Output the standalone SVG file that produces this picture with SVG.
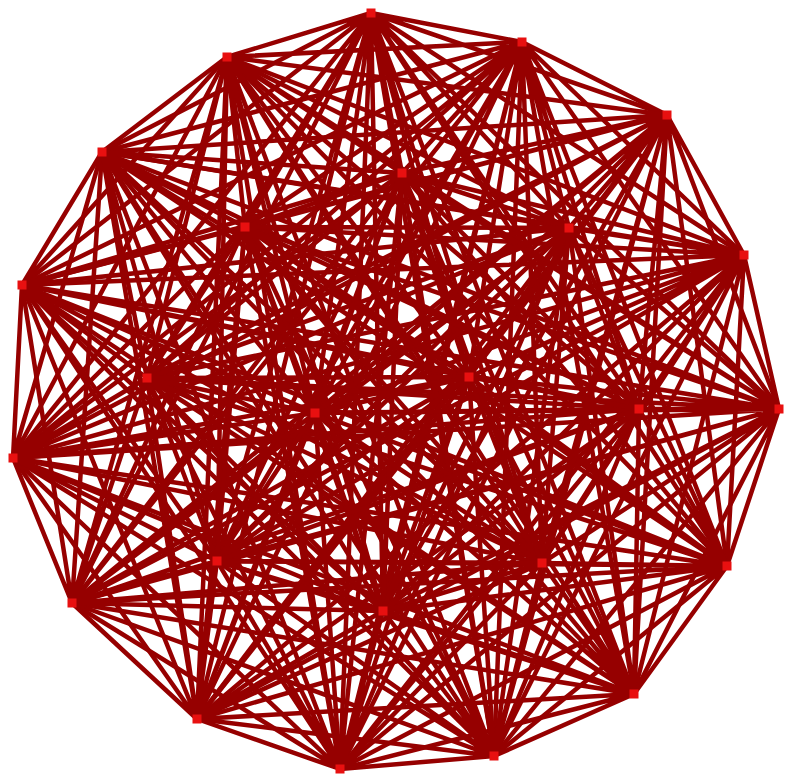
<svg xmlns="http://www.w3.org/2000/svg" width="787" height="781" viewBox="0 0 787 781">
<style>
.e{fill:none;stroke:#960000;stroke-width:4.5;stroke-linecap:round}
.n{fill:#e81010}
</style>
<defs><rect id="sq" x="-4.5" y="-4.5" width="9" height="9"/></defs>
<rect width="787" height="781" fill="#fff"/>
<g id="connectors" class="e">
<path d="M371 13L522 42M371 13L667 115M371 13L744 255M371 13L779 409M371 13L727 566M371 13L634 694M371 13L494 756M371 13L340 769M371 13L197 719M371 13L72 603M371 13L13 458M371 13L22 285M371 13L102 152M371 13L227 57M371 13L402 173M371 13L569 228M371 13L245 227M371 13L147 378M371 13L315 413M371 13L469 377M371 13L639 409M371 13L217 561M371 13L383 611M371 13L542 563"/>
<path d="M522 42L667 115M522 42L744 255M522 42L779 409M522 42L727 566M522 42L634 694M522 42L494 756M522 42L340 769M522 42L197 719M522 42L72 603M522 42L13 458M522 42L22 285M522 42L102 152M522 42L227 57M522 42L402 173M522 42L569 228M522 42L245 227M522 42L147 378M522 42L315 413M522 42L469 377M522 42L639 409M522 42L217 561M522 42L383 611M522 42L542 563"/>
<path d="M667 115L744 255M667 115L779 409M667 115L727 566M667 115L634 694M667 115L494 756M667 115L340 769M667 115L197 719M667 115L72 603M667 115L13 458M667 115L22 285M667 115L102 152M667 115L227 57M667 115L402 173M667 115L569 228M667 115L245 227M667 115L147 378M667 115L315 413M667 115L469 377M667 115L639 409M667 115L217 561M667 115L383 611M667 115L542 563"/>
<path d="M744 255L779 409M744 255L727 566M744 255L634 694M744 255L494 756M744 255L340 769M744 255L197 719M744 255L72 603M744 255L13 458M744 255L22 285M744 255L102 152M744 255L227 57M744 255L402 173M744 255L569 228M744 255L245 227M744 255L147 378M744 255L315 413M744 255L469 377M744 255L639 409M744 255L217 561M744 255L383 611M744 255L542 563"/>
<path d="M779 409L727 566M779 409L634 694M779 409L494 756M779 409L340 769M779 409L197 719M779 409L72 603M779 409L13 458M779 409L22 285M779 409L102 152M779 409L227 57M779 409L402 173M779 409L569 228M779 409L245 227M779 409L147 378M779 409L315 413M779 409L469 377M779 409L639 409M779 409L217 561M779 409L383 611M779 409L542 563"/>
<path d="M727 566L634 694M727 566L494 756M727 566L340 769M727 566L197 719M727 566L72 603M727 566L13 458M727 566L22 285M727 566L102 152M727 566L227 57M727 566L402 173M727 566L569 228M727 566L245 227M727 566L147 378M727 566L315 413M727 566L469 377M727 566L639 409M727 566L217 561M727 566L383 611M727 566L542 563"/>
<path d="M634 694L494 756M634 694L340 769M634 694L197 719M634 694L72 603M634 694L13 458M634 694L22 285M634 694L102 152M634 694L227 57M634 694L402 173M634 694L569 228M634 694L245 227M634 694L147 378M634 694L315 413M634 694L469 377M634 694L639 409M634 694L217 561M634 694L383 611M634 694L542 563"/>
<path d="M494 756L340 769M494 756L197 719M494 756L72 603M494 756L13 458M494 756L22 285M494 756L102 152M494 756L227 57M494 756L402 173M494 756L569 228M494 756L245 227M494 756L147 378M494 756L315 413M494 756L469 377M494 756L639 409M494 756L217 561M494 756L383 611M494 756L542 563"/>
<path d="M340 769L197 719M340 769L72 603M340 769L13 458M340 769L22 285M340 769L102 152M340 769L227 57M340 769L402 173M340 769L569 228M340 769L245 227M340 769L147 378M340 769L315 413M340 769L469 377M340 769L639 409M340 769L217 561M340 769L383 611M340 769L542 563"/>
<path d="M197 719L72 603M197 719L13 458M197 719L22 285M197 719L102 152M197 719L227 57M197 719L402 173M197 719L569 228M197 719L245 227M197 719L147 378M197 719L315 413M197 719L469 377M197 719L639 409M197 719L217 561M197 719L383 611M197 719L542 563"/>
<path d="M72 603L13 458M72 603L22 285M72 603L102 152M72 603L227 57M72 603L402 173M72 603L569 228M72 603L245 227M72 603L147 378M72 603L315 413M72 603L469 377M72 603L639 409M72 603L217 561M72 603L383 611M72 603L542 563"/>
<path d="M13 458L22 285M13 458L102 152M13 458L227 57M13 458L402 173M13 458L569 228M13 458L245 227M13 458L147 378M13 458L315 413M13 458L469 377M13 458L639 409M13 458L217 561M13 458L383 611M13 458L542 563"/>
<path d="M22 285L102 152M22 285L227 57M22 285L402 173M22 285L569 228M22 285L245 227M22 285L147 378M22 285L315 413M22 285L469 377M22 285L639 409M22 285L217 561M22 285L383 611M22 285L542 563"/>
<path d="M102 152L227 57M102 152L402 173M102 152L569 228M102 152L245 227M102 152L147 378M102 152L315 413M102 152L469 377M102 152L639 409M102 152L217 561M102 152L383 611M102 152L542 563"/>
<path d="M227 57L402 173M227 57L569 228M227 57L245 227M227 57L147 378M227 57L315 413M227 57L469 377M227 57L639 409M227 57L217 561M227 57L383 611M227 57L542 563"/>
<path d="M402 173L569 228M402 173L245 227M402 173L147 378M402 173L315 413M402 173L469 377M402 173L639 409M402 173L217 561M402 173L383 611M402 173L542 563"/>
<path d="M569 228L245 227M569 228L147 378M569 228L315 413M569 228L469 377M569 228L639 409M569 228L217 561M569 228L383 611M569 228L542 563"/>
<path d="M245 227L147 378M245 227L315 413M245 227L469 377M245 227L639 409M245 227L217 561M245 227L383 611M245 227L542 563"/>
<path d="M147 378L315 413M147 378L469 377M147 378L639 409M147 378L217 561M147 378L383 611M147 378L542 563"/>
<path d="M315 413L469 377M315 413L639 409M315 413L217 561M315 413L383 611M315 413L542 563"/>
<path d="M469 377L639 409M469 377L217 561M469 377L383 611M469 377L542 563"/>
<path d="M639 409L217 561M639 409L383 611M639 409L542 563"/>
<path d="M217 561L383 611M217 561L542 563"/>
<path d="M383 611L542 563"/>
</g>
<g id="nA" class="n"><use href="#sq" x="371" y="13"/></g>
<g id="nB" class="n"><use href="#sq" x="522" y="42"/></g>
<g id="nC" class="n"><use href="#sq" x="667" y="115"/></g>
<g id="nD" class="n"><use href="#sq" x="744" y="255"/></g>
<g id="nE" class="n"><use href="#sq" x="779" y="409"/></g>
<g id="nF" class="n"><use href="#sq" x="727" y="566"/></g>
<g id="nG" class="n"><use href="#sq" x="634" y="694"/></g>
<g id="nH" class="n"><use href="#sq" x="494" y="756"/></g>
<g id="nI" class="n"><use href="#sq" x="340" y="769"/></g>
<g id="nJ" class="n"><use href="#sq" x="197" y="719"/></g>
<g id="nK" class="n"><use href="#sq" x="72" y="603"/></g>
<g id="nL" class="n"><use href="#sq" x="13" y="458"/></g>
<g id="nM" class="n"><use href="#sq" x="22" y="285"/></g>
<g id="nN" class="n"><use href="#sq" x="102" y="152"/></g>
<g id="nO" class="n"><use href="#sq" x="227" y="57"/></g>
<g id="nP" class="n"><use href="#sq" x="402" y="173"/></g>
<g id="nQ" class="n"><use href="#sq" x="569" y="228"/></g>
<g id="nR" class="n"><use href="#sq" x="245" y="227"/></g>
<g id="nS" class="n"><use href="#sq" x="147" y="378"/></g>
<g id="nT" class="n"><use href="#sq" x="315" y="413"/></g>
<g id="nU" class="n"><use href="#sq" x="469" y="377"/></g>
<g id="nV" class="n"><use href="#sq" x="639" y="409"/></g>
<g id="nW" class="n"><use href="#sq" x="217" y="561"/></g>
<g id="nX" class="n"><use href="#sq" x="383" y="611"/></g>
<g id="nY" class="n"><use href="#sq" x="542" y="563"/></g>
</svg>
